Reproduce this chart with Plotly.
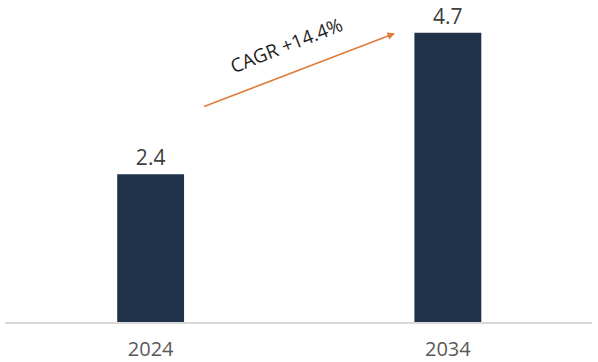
import plotly.graph_objects as go

years = ["2024", "2034"]
values = [2.4, 4.7]
value_labels = ["2.4", "4.7"]
cagr_text = "CAGR +14.4%"

fig = go.Figure()
fig.add_trace(go.Bar(
    x=years, y=values, text=value_labels, textposition="outside",
    marker=dict(color="#1F3249", line=dict(width=0)),
    width=0.225,
    textfont=dict(family="Open Sans", size=21, color="#404040"),
    cliponaxis=False,
))

fig.add_annotation(
    x=0.822, y=4.69, ax=0.175, ay=3.49,
    xref="x", yref="y", axref="x", ayref="y",
    showarrow=True, arrowhead=2, arrowsize=1, arrowwidth=1.5,
    arrowcolor="#E07B39", text="",
)
fig.add_annotation(
    x=0.458, y=4.5, xref="x", yref="y",
    text=cagr_text, showarrow=False, textangle=-21.5,
    font=dict(family="Open Sans", size=19, color="#1f1f1f"),
)

fig.update_layout(
    width=598, height=362,
    margin=dict(l=5, r=6, t=0, b=37),
    plot_bgcolor="white", paper_bgcolor="white",
    showlegend=False,
    xaxis=dict(range=[-0.49, 1.485], showline=True, linecolor="#D9D9D9", linewidth=1.5,
               showgrid=False, ticks="", ticklabelstandoff=8,
               tickfont=dict(family="Open Sans", size=20, color="#595959")),
    yaxis=dict(range=[0, 5.23], visible=False, showgrid=False),
)

fig.write_html("out.html")
